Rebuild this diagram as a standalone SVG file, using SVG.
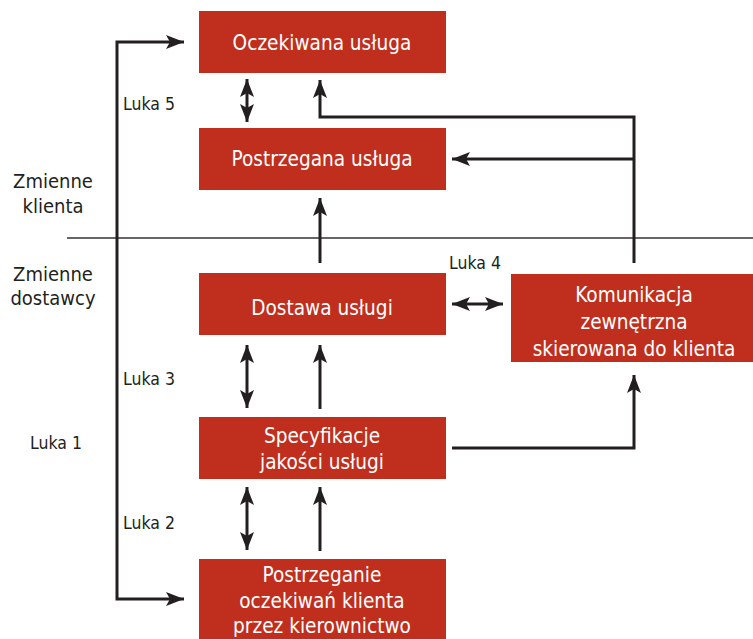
<svg xmlns="http://www.w3.org/2000/svg" width="753" height="639" viewBox="0 0 753 639">
<style>
.box{fill:#c02e1d}
.bt{font-family:"DejaVu Sans Condensed","DejaVu Sans",sans-serif;font-size:20.6px;fill:#ffffff;text-anchor:middle}
.lt{font-family:"DejaVu Sans Condensed","DejaVu Sans",sans-serif;font-size:17.5px;fill:#231f20}
.st{font-family:"DejaVu Sans Condensed","DejaVu Sans",sans-serif;font-size:20px;fill:#231f20;text-anchor:middle}
.c{fill:none;stroke:#231f20;stroke-width:3}
</style>
<defs>
<marker id="ah" viewBox="0 0 18 14" refX="18" refY="7" markerWidth="18" markerHeight="14" markerUnits="userSpaceOnUse" orient="auto-start-reverse">
<path d="M0,0 L18,7 L0,14 L4,7 z" fill="#231f20"/>
</marker>
</defs>
<rect width="753" height="639" fill="#ffffff"/>
<line x1="67" y1="238" x2="753" y2="238" stroke="#333333" stroke-width="1.5"/>
<g id="labels">
<text class="st" x="53" y="188">Zmienne</text>
<text class="st" x="53" y="213">klienta</text>
<text class="st" x="53" y="281">Zmienne</text>
<text class="st" x="53" y="305">dostawcy</text>
<text class="lt" x="123" y="110">Luka 5</text>
<text class="lt" x="449" y="269">Luka 4</text>
<text class="lt" x="123" y="385">Luka 3</text>
<text class="lt" x="30" y="449">Luka 1</text>
<text class="lt" x="123" y="529">Luka 2</text>
</g>
<g id="connectors">
<path class="c" d="M184,42 H117 V599 H184" marker-start="url(#ah)" marker-end="url(#ah)"/>
<path class="c" d="M247,79 V122" marker-start="url(#ah)" marker-end="url(#ah)"/>
<path class="c" d="M320,263 V198" marker-end="url(#ah)"/>
<path class="c" d="M634,263 V117 H320 V80" marker-end="url(#ah)"/>
<path class="c" d="M634,159 H452" marker-end="url(#ah)"/>
<path class="c" d="M452,304 H503" marker-start="url(#ah)" marker-end="url(#ah)"/>
<path class="c" d="M247,345 V408" marker-start="url(#ah)" marker-end="url(#ah)"/>
<path class="c" d="M320,409 V345" marker-end="url(#ah)"/>
<path class="c" d="M247,487 V550" marker-start="url(#ah)" marker-end="url(#ah)"/>
<path class="c" d="M320,551 V487" marker-end="url(#ah)"/>
<path class="c" d="M452,448 H634 V375" marker-end="url(#ah)"/>
</g>
<g id="oczekiwana">
<rect class="box" x="199" y="11" width="247" height="62"/>
<text class="bt" x="322" y="50">Oczekiwana usługa</text>
</g>
<g id="postrzegana">
<rect class="box" x="199" y="128" width="247" height="62"/>
<text class="bt" x="322" y="166">Postrzegana usługa</text>
</g>
<g id="dostawa">
<rect class="box" x="199" y="273" width="247" height="62"/>
<text class="bt" x="322" y="315">Dostawa usługi</text>
</g>
<g id="komunikacja">
<rect class="box" x="511" y="274" width="242" height="88"/>
<text class="bt" x="634" y="302">Komunikacja</text>
<text class="bt" x="634" y="329">zewnętrzna</text>
<text class="bt" x="634" y="356">skierowana do klienta</text>
</g>
<g id="specyfikacje">
<rect class="box" x="199" y="417" width="247" height="62"/>
<text class="bt" x="322" y="443">Specyfikacje</text>
<text class="bt" x="322" y="469">jakości usługi</text>
</g>
<g id="postrzeganie">
<rect class="box" x="199" y="559" width="247" height="80"/>
<text class="bt" x="322" y="582">Postrzeganie</text>
<text class="bt" x="322" y="608">oczekiwań klienta</text>
<text class="bt" x="322" y="633">przez kierownictwo</text>
</g>
</svg>
